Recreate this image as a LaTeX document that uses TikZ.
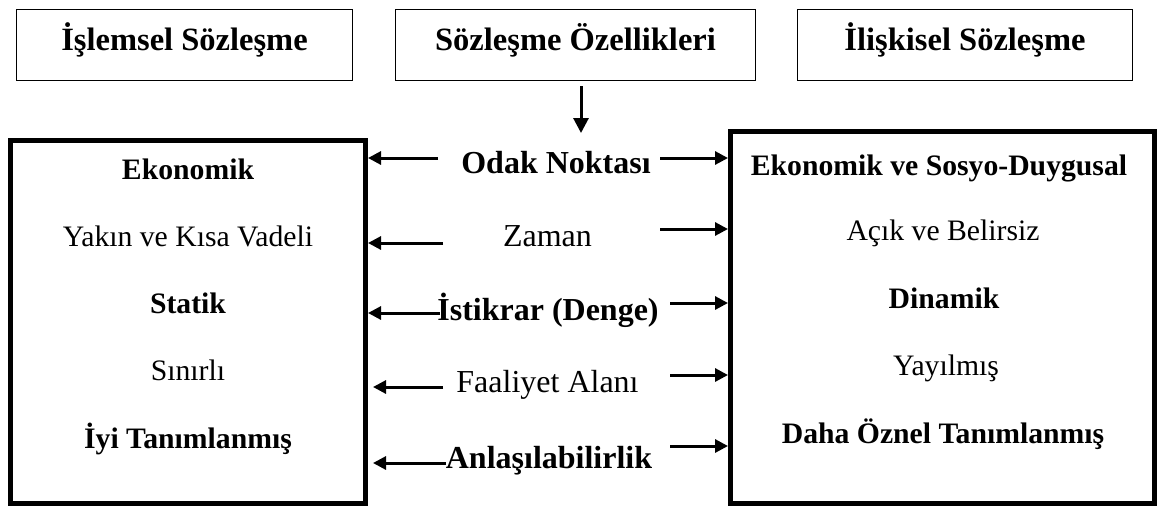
\documentclass[tikz,border=0pt]{standalone}
\usepackage{fontspec}
\setmainfont{Liberation Serif}
\usetikzlibrary{arrows.meta}
\tikzset{
  headbox/.style={draw, line width=1.5pt, minimum height=71pt, inner sep=0pt,
    text height=24pt, text depth=14pt,
    font=\fontsize{32.5}{38}\selectfont\bfseries},
  bigbox/.style={draw, line width=5pt, inner sep=0pt},
  midlbl/.style={inner sep=0pt, anchor=base, font=\fontsize{32}{38}\selectfont},
  bmidlbl/.style={midlbl, font=\fontsize{32}{38}\selectfont\bfseries},
  sidelbl/.style={inner sep=0pt, anchor=base, font=\fontsize{29.7}{35}\selectfont},
  bsidelbl/.style={sidelbl, font=\fontsize{29.7}{35}\selectfont\bfseries},
  arr/.style={line width=3pt, -{Triangle[length=13pt,width=13pt]}},
  downarr/.style={line width=3pt, -{Triangle[length=15pt,width=15pt]}}
}
\begin{document}
\begin{tikzpicture}[x=1pt,y=-1pt]
\useasboundingbox (0,0) rectangle (1158,507);

% column headings
\node[headbox, minimum width=336pt] (trans) at (184.5,45) {İşlemsel Sözleşme};
\node[headbox, minimum width=360pt] (feat)  at (575.5,45) {Sözleşme Özellikleri};
\node[headbox, minimum width=335pt] (rel)   at (965,45)   {İlişkisel Sözleşme};

% the two comparison panels
\node[bigbox, minimum width=355pt, minimum height=363pt] (L) at (188,321.5) {};
\node[bigbox, minimum width=423.5pt, minimum height=372pt] (R) at (942.25,317) {};

% characteristics in the middle column
\node[bmidlbl] (c1) at (556,173) {Odak Noktası};
\node[midlbl]  (c2) at (547.5,246) {Zaman};
\node[bmidlbl] (c3) at (548,320) {İstikrar (Denge)};
\node[midlbl]  (c4) at (547.5,392) {Faaliyet Alanı};
\node[bmidlbl] (c5) at (549,468) {Anlaşılabilirlik};

% transactional side
\node[bsidelbl] at (188,179) {Ekonomik};
\node[sidelbl]  at (188,246) {Yakın ve Kısa Vadeli};
\node[bsidelbl] at (188,313) {Statik};
\node[sidelbl]  at (188,380) {Sınırlı};
\node[bsidelbl] at (188,448) {İyi Tanımlanmış};

% relational side
\node[bsidelbl] at (939,175) {Ekonomik ve Sosyo-Duygusal};
\node[sidelbl]  at (943,240) {Açık ve Belirsiz};
\node[bsidelbl] at (944,308) {Dinamik};
\node[sidelbl]  at (946,375) {Yayılmış};
\node[bsidelbl] at (943,443) {Daha Öznel Tanımlanmış};

% arrow from the heading down to the list
\coordinate (down) at (581,133);
\draw[downarr] ([xshift=5.5pt,yshift=-5pt]feat.south) -- (down);

% arrow tails
\coordinate (l1) at (438,158);  \coordinate (r1) at (660,158);
\coordinate (l2) at (443,243);  \coordinate (r2) at (660,229);
\coordinate (l3) at (440,313);  \coordinate (r3) at (670,303);
\coordinate (l4) at (443,387);  \coordinate (r4) at (670,375);
\coordinate (l5) at (446,463);  \coordinate (r5) at (670,446);

\foreach \i in {1,2,3}{
  \draw[arr] (l\i) -- (L.east |- l\i);
}
\foreach \i in {4,5}{
  \draw[arr] (l\i) -- ([xshift=5pt]L.east |- l\i);
}
\foreach \i in {1,...,5}{
  \draw[arr] (r\i) -- (R.west |- r\i);
}
\end{tikzpicture}
\end{document}
